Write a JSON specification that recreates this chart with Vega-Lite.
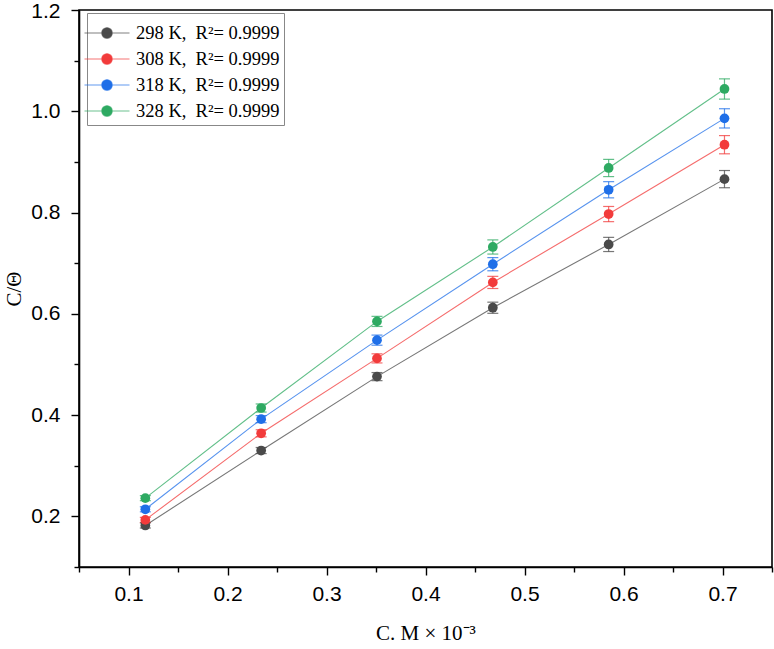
{
  "$schema": "https://vega.github.io/schema/vega-lite/v6.json",
  "width": 693,
  "height": 557,
  "autosize": "none",
  "padding": {"left": 79, "top": 10, "right": 2, "bottom": 82},
  "background": "white",
  "config": {
    "view": {"stroke": "black", "strokeWidth": 1.6},
    "axis": {
      "domainColor": "black", "domainWidth": 1.6, "tickColor": "black", "tickWidth": 1.4,
      "grid": false, "labelFont": "Liberation Sans", "labelFontSize": 21,
      "labelColor": "black", "titleFont": "Liberation Serif", "titleFontSize": 21,
      "titleFontWeight": "normal", "titleColor": "black"
    }
  },
  "data": {"values": [
    {"c": 0.117, "v": 0.182, "e": 0.005, "s": "298 K,\u00a0\u00a0R²= 0.9999"},
    {"c": 0.234, "v": 0.330, "e": 0.006, "s": "298 K,\u00a0\u00a0R²= 0.9999"},
    {"c": 0.351, "v": 0.476, "e": 0.008, "s": "298 K,\u00a0\u00a0R²= 0.9999"},
    {"c": 0.468, "v": 0.612, "e": 0.011, "s": "298 K,\u00a0\u00a0R²= 0.9999"},
    {"c": 0.585, "v": 0.737, "e": 0.014, "s": "298 K,\u00a0\u00a0R²= 0.9999"},
    {"c": 0.702, "v": 0.866, "e": 0.017, "s": "298 K,\u00a0\u00a0R²= 0.9999"},
    {"c": 0.117, "v": 0.193, "e": 0.005, "s": "308 K,\u00a0\u00a0R²= 0.9999"},
    {"c": 0.234, "v": 0.364, "e": 0.007, "s": "308 K,\u00a0\u00a0R²= 0.9999"},
    {"c": 0.351, "v": 0.512, "e": 0.009, "s": "308 K,\u00a0\u00a0R²= 0.9999"},
    {"c": 0.468, "v": 0.662, "e": 0.012, "s": "308 K,\u00a0\u00a0R²= 0.9999"},
    {"c": 0.585, "v": 0.797, "e": 0.015, "s": "308 K,\u00a0\u00a0R²= 0.9999"},
    {"c": 0.702, "v": 0.934, "e": 0.018, "s": "308 K,\u00a0\u00a0R²= 0.9999"},
    {"c": 0.117, "v": 0.214, "e": 0.005, "s": "318 K,\u00a0\u00a0R²= 0.9999"},
    {"c": 0.234, "v": 0.392, "e": 0.007, "s": "318 K,\u00a0\u00a0R²= 0.9999"},
    {"c": 0.351, "v": 0.548, "e": 0.010, "s": "318 K,\u00a0\u00a0R²= 0.9999"},
    {"c": 0.468, "v": 0.698, "e": 0.013, "s": "318 K,\u00a0\u00a0R²= 0.9999"},
    {"c": 0.585, "v": 0.845, "e": 0.016, "s": "318 K,\u00a0\u00a0R²= 0.9999"},
    {"c": 0.702, "v": 0.986, "e": 0.019, "s": "318 K,\u00a0\u00a0R²= 0.9999"},
    {"c": 0.117, "v": 0.236, "e": 0.005, "s": "328 K,\u00a0\u00a0R²= 0.9999"},
    {"c": 0.234, "v": 0.414, "e": 0.008, "s": "328 K,\u00a0\u00a0R²= 0.9999"},
    {"c": 0.351, "v": 0.585, "e": 0.010, "s": "328 K,\u00a0\u00a0R²= 0.9999"},
    {"c": 0.468, "v": 0.732, "e": 0.014, "s": "328 K,\u00a0\u00a0R²= 0.9999"},
    {"c": 0.585, "v": 0.888, "e": 0.017, "s": "328 K,\u00a0\u00a0R²= 0.9999"},
    {"c": 0.702, "v": 1.044, "e": 0.020, "s": "328 K,\u00a0\u00a0R²= 0.9999"}
  ]},
  "encoding": {
    "x": {"field": "c", "type": "quantitative", "title": "C. M × 10⁻³",
      "scale": {"domain": [0.05, 0.75], "nice": false, "zero": false},
      "axis": {"values": [0.05,0.1,0.15,0.2,0.25,0.3,0.35,0.4,0.45,0.5,0.55,0.6,0.65,0.7,0.75],
        "labelExpr": "round(datum.value*100)%10==0 ? format(datum.value, '.1f') : ''",
        "tickSize": {"condition": {"test": "round(datum.value*100)%10==0", "value": 8}, "value": 5},
        "labelPadding": 8, "titlePadding": 18, "labelFlush": false}},
    "y": {"field": "v", "type": "quantitative", "title": "C/Θ",
      "scale": {"domain": [0.1, 1.2], "nice": false, "zero": false},
      "axis": {"values": [0.1,0.2,0.3,0.4,0.5,0.6,0.7,0.8,0.9,1.0,1.1,1.2],
        "labelExpr": "round(datum.value*10)%2==0 ? format(datum.value, '.1f') : ''",
        "labelOffset": {"condition": {"test": "datum.value > 1.15", "value": 1.5}, "value": 0},
        "tickSize": {"condition": {"test": "round(datum.value*10)%2==0", "value": 8}, "value": 5},
        "labelPadding": 11, "titlePadding": 6, "labelFlush": false}},
    "color": {"field": "s", "type": "nominal",
      "scale": {"range": ["#4a4a4a", "#f23b3b", "#1f6fe8", "#2eaa62"]},
      "legend": {"title": null, "orient": "none", "legendX": 8, "legendY": 3,
        "symbolType": "M-1.5,0H1.5M0.35,0A0.35,0.35 0 1,1 -0.35,0A0.35,0.35 0 1,1 0.35,0Z",
        "symbolSize": 900, "symbolStrokeWidth": 1.2, "symbolOpacity": 1,
        "labelFont": "Liberation Serif", "labelFontSize": 18.5, "labelColor": "black", "labelLimit": 300,
        "rowPadding": -5, "padding": 4, "strokeColor": "#888888", "fillColor": "white",
        "labelOffset": 13,
        "encode": {"symbols": {"update": {"stroke": {"scale": "color", "field": "value"}, "strokeOpacity": {"value": 0.7}}}}}}
  },
  "layer": [
    {"mark": {"type": "line", "strokeWidth": 1.1, "opacity": 0.75}},
    {"mark": {"type": "errorbar", "ticks": {"size": 11}, "opacity": 0.75, "thickness": 1.2},
     "encoding": {"yError": {"field": "e"}}},
    {"mark": {"type": "point", "filled": true, "size": 95, "opacity": 1, "stroke": null}}
  ]
}
